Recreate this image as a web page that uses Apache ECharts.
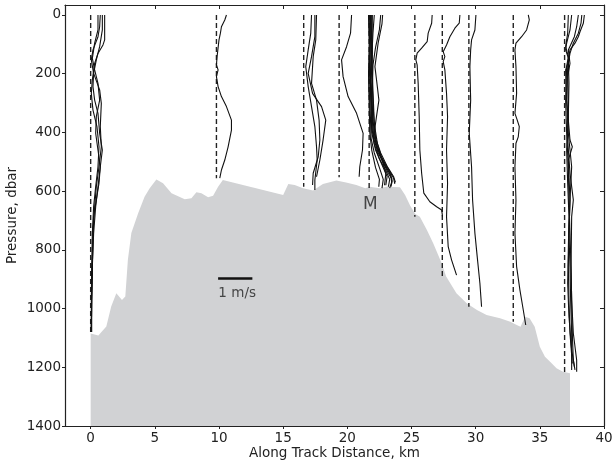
<!DOCTYPE html>
<html><head><meta charset="utf-8">
<script src="https://cdn.jsdelivr.net/npm/echarts@6/dist/echarts.min.js"></script>
<style>html,body{margin:0;padding:0;background:#fff}#c{width:613px;height:463px}</style>
</head><body><div id="c"></div>
<script>
const xTicks = [0,5,10,15,20,25,30,35,40];
const yTicks = [0,200,400,600,800,1000,1200,1400];
const xName = 'Along Track Distance, km';
const yName = 'Pressure, dbar';
const scaleText = '1 m/s';
const markText = 'M';

// bathymetry [km, dbar]
const bathymetry = [[0,1085],[0.6,1092],[1.22,1061],[1.6,993],[2.0,948],[2.44,971],[2.7,959],[2.9,834],[3.17,743],[3.7,675],[4.2,619],[4.6,590],[5.12,560],[5.64,573],[6.3,607],[7.33,628],[7.85,624],[8.24,604],[8.63,607],[9.15,621],[9.54,616],[9.93,585],[10.3,562],[15.0,613],[15.4,576],[15.9,579],[16.55,590],[17.33,598],[18.1,576],[19.15,564],[19.9,571],[20.7,579],[21.4,590],[21.75,585],[22.5,590],[23.05,585],[24.1,587],[24.5,613],[24.9,650],[25.3,678],[25.65,687],[26.2,732],[26.7,778],[27.35,846],[27.7,891],[28.5,948],[29.3,982],[30.1,1005],[30.85,1022],[31.9,1033],[32.7,1045],[33.2,1056],[33.5,1062],[33.85,1028],[34.2,1033],[34.6,1062],[35.0,1130],[35.4,1164],[35.8,1181],[36.3,1203],[36.8,1215],[37.35,1220]];

// station positions (km) and bottom of dashed reference line (dbar)
const stationKm = [0, 9.8, 16.6, 19.36, 21.7, 25.26, 27.4, 29.47, 32.93, 36.93];
const stationBottom = [1080, 556, 585, 553, 590, 687, 889, 994, 1045, 1220];

// velocity profiles drawn as along-track position (km) vs pressure (dbar)
const profiles1 = [
 [[0.57,0],[0.57,51],[0.31,96],[0.13,148],[0.31,187],[0.57,233],[0.70,290],[0.44,346],[0.39,403],[0.57,460],[0.75,517],[0.65,573],[0.44,630],[0.23,687],[0.18,744],[0.13,857],[0.08,971],[0.05,1080]],
 [[0.75,0],[0.70,40],[0.57,74],[0.18,119],[0.05,153],[0.23,199],[0.70,255],[0.83,301],[0.75,380],[0.83,449],[0.65,517],[0.44,585],[0.31,653],[0.18,744],[0.13,857],[0.08,971],[0.08,1080]],
 [[0.91,0],[0.91,51],[0.70,108],[0.44,153],[0.23,199],[0.18,244],[0.31,290],[0.57,335],[0.70,403],[0.91,460],[0.75,517],[0.57,585],[0.39,653],[0.23,744],[0.13,857],[0.08,971],[0.05,1080]],
 [[1.09,0],[1.09,85],[0.96,102],[0.57,131],[0.31,165],[0.13,221],[0.05,267],[0.18,324],[0.49,380],[0.65,449],[0.57,517],[0.39,585],[0.23,653],[0.13,744],[0.08,857],[0.05,971],[0.05,1080]]
];
const profiles2 = [
 [[10.58,0],[10.45,17],[10.19,40],[10.11,62],[10.0,85],[9.85,142],[9.80,170],[9.93,187],[9.80,210],[9.93,244],[10.19,278],[10.58,312],[10.97,358],[10.97,392],[10.71,449],[10.45,494],[10.19,528],[10.06,556]]
];
const profiles3 = [
 [[17.21,0],[17.15,62],[16.95,119],[16.76,176],[16.95,244],[17.21,312],[17.47,380],[17.6,449],[17.65,494],[17.47,562],[17.47,596]],
 [[17.47,0],[17.47,74],[17.21,142],[16.95,199],[17.29,267],[17.99,312],[18.32,358],[18.11,426],[17.86,494],[17.6,551]],
 [[17.6,0],[17.54,85],[17.34,142],[17.21,233],[17.6,290],[17.8,358],[17.86,426],[17.73,483],[17.34,539],[17.29,579]]
];
const profiles4 = [
 [[20.33,0],[20.25,62],[19.94,108],[19.55,153],[19.67,210],[20.06,278],[20.72,335],[21.23,403],[21.18,460],[20.97,517],[20.92,551]]
];
const profiles5 = [
 [[21.65,0],[21.7,100],[21.65,200],[21.7,300],[21.75,400],[21.9,460],[22.2,520],[22.5,560],[22.45,585]],
 [[21.7,0],[21.75,120],[21.7,250],[21.8,350],[21.85,420],[22.1,470],[22.5,520],[22.8,560],[22.7,590]],
 [[21.75,0],[21.8,80],[21.75,180],[21.85,300],[21.9,400],[22.2,460],[22.7,510],[23.1,550],[23.0,580]],
 [[21.8,0],[21.85,150],[21.8,260],[21.9,380],[22.1,440],[22.5,490],[23.0,530],[23.3,560],[23.2,585]],
 [[21.85,0],[21.9,100],[21.8,200],[21.95,330],[22.05,420],[22.4,470],[22.9,510],[23.4,545],[23.45,570],[23.3,590]],
 [[21.9,0],[21.95,130],[21.85,230],[22.0,360],[22.2,430],[22.6,480],[23.2,525],[23.6,555],[23.7,575]],
 [[21.95,0],[21.9,90],[21.95,200],[21.9,310],[22.0,400],[22.3,450],[22.8,500],[23.3,540],[23.5,565],[23.4,585]],
 [[22.1,0],[22.0,60],[21.9,150],[22.0,260],[22.1,370],[22.35,440],[22.7,490],[23.0,540],[22.9,580]],
 [[22.6,0],[22.5,50],[22.2,110],[22.0,170],[21.95,250],[22.05,340],[22.2,420],[22.6,470],[23.1,515],[23.6,550],[23.75,570]],
 [[22.75,0],[22.7,30],[22.4,96],[22.15,176],[22.3,230],[22.46,290],[22.27,346],[22.1,400],[22.3,450],[22.75,500],[23.2,540],[23.5,560]]
];
const profiles6 = [
 [[26.61,0],[26.57,28],[26.3,62],[26.22,91],[25.79,113],[25.44,130],[25.34,153],[25.44,170],[25.52,233],[25.6,346],[25.65,460],[25.79,539],[25.96,607],[26.43,636],[26.96,653],[27.35,664],[27.42,687]]
];
const profiles7 = [
 [[28.77,0],[28.72,28],[28.38,45],[27.99,74],[27.73,102],[27.47,125],[27.6,142],[27.47,159],[27.6,187],[27.73,267],[27.81,346],[27.73,460],[27.81,573],[27.73,687],[27.86,789],[28.12,834],[28.51,886]]
];
const profiles8 = [
 [[30.02,0],[29.94,51],[29.68,85],[29.61,119],[29.55,176],[29.61,290],[29.5,403],[29.68,517],[29.76,630],[29.94,743],[30.12,823],[30.33,914],[30.46,994]]
];
const profiles9 = [
 [[34.1,0],[34.18,17],[33.97,51],[33.58,74],[33.14,96],[33.06,119],[33.14,176],[33.19,267],[33.06,335],[33.24,358],[33.4,380],[33.32,415],[33.14,437],[33.06,517],[33.14,630],[33.06,743],[33.19,857],[33.45,937],[33.71,1005],[33.9,1056]]
];
const profiles10 = [
 [[37.22,0],[37.17,62],[37.01,108],[37.22,142],[37.09,176],[37.01,290],[37.09,403],[37.22,517],[37.27,630],[37.35,744],[37.43,857],[37.48,971],[37.53,1084],[37.61,1175],[37.74,1209]],
 [[37.48,0],[37.35,51],[37.09,96],[37.01,119],[37.27,153],[37.01,187],[37.09,290],[37.35,426],[37.53,449],[37.22,494],[37.35,630],[37.27,744],[37.35,857],[37.4,971],[37.48,1084],[37.48,1209]],
 [[38.0,0],[37.87,40],[37.69,74],[37.22,119],[37.35,165],[37.17,210],[37.22,312],[37.17,426],[37.35,539],[37.61,630],[37.48,687],[37.43,857],[37.48,971],[37.61,1084],[37.87,1175],[37.87,1215]],
 [[38.27,0],[38.21,28],[38.0,62],[37.61,96],[37.35,131],[37.17,176],[37.09,290],[37.22,403],[37.48,517],[37.35,630],[37.27,744],[37.22,857],[37.27,971],[37.35,1084],[37.53,1187]],
 [[38.47,0],[38.39,28],[38.13,57],[38.0,74],[37.74,96],[37.35,119],[37.22,153],[37.27,233],[37.22,346],[37.09,460],[37.17,573],[37.27,687],[37.22,800],[37.17,914],[37.27,1028],[37.48,1141],[37.69,1198]]
];

// scale bar (1 m/s) endpoints and label positions
const scaleBar = [[9.93,898],[12.6,898]];
const scaleLabelAt = [9.95,948];
const markAt = [21.8,647];

const allProfiles = [profiles1,profiles2,profiles3,profiles4,profiles5,profiles6,profiles7,profiles8,profiles9,profiles10];

const FONT = 'DejaVu Sans';
const TXT = '#222';
const FS = 13.5;
const series = [];
series.push({
  type:'line', data:bathymetry, showSymbol:false, symbol:'none', silent:true, z:1,
  lineStyle:{width:0, color:'#d1d2d4'}, areaStyle:{color:'#d1d2d4', opacity:1, origin:'end'}
});
stationKm.forEach((k,i)=>{
  series.push({type:'line', data:[[k,0],[k,stationBottom[i]]], showSymbol:false, symbol:'none', silent:true, z:3,
    lineStyle:{color:'#222', width:1.4, type:[5,3]}});
});
allProfiles.forEach(group=>group.forEach(line=>{
  series.push({type:'line', data:line, showSymbol:false, symbol:'none', silent:true, z:4,
    lineStyle:{color:'#111', width:1.1}});
}));
series.push({type:'line', data:scaleBar, showSymbol:false, symbol:'none', silent:true, z:4,
  lineStyle:{color:'#111', width:2.5}});
series.push({type:'scatter', data:[scaleLabelAt], symbolSize:0, silent:true, z:5,
  label:{show:true, position:'right', distance:0, formatter:scaleText, color:TXT, fontFamily:FONT, fontSize:FS}});
series.push({type:'scatter', data:[markAt], symbolSize:0, silent:true, z:5,
  label:{show:true, position:'inside', formatter:markText, color:TXT, fontFamily:FONT, fontSize:17}});

const axLine = {show:true, onZero:false, lineStyle:{color:'#222', width:1.2}};
const fmt = v => String(v);
const chart = echarts.init(document.getElementById('c'), null, {renderer:'canvas'});
chart.setOption({
  animation:false,
  backgroundColor:'#fff',
  grid:{left:65, top:5, right:9, bottom:37, containLabel:false, outerBoundsMode:'none'},
  xAxis:[{
    type:'value', min:-2, max:40, position:'bottom',
    name:xName, nameLocation:'middle', nameGap:20, nameMoveOverlap:false,
    nameTextStyle:{color:TXT, fontFamily:FONT, fontSize:FS},
    axisLine:axLine,
    axisTick:{show:true, inside:false, length:3, customValues:xTicks, lineStyle:{color:'#222'}},
    axisLabel:{show:true, customValues:xTicks, formatter:fmt, color:TXT, fontFamily:FONT, fontSize:FS, margin:5},
    splitLine:{show:false}
  },{
    type:'value', min:-2, max:40, position:'top',
    axisLine:axLine,
    axisTick:{show:true, inside:true, length:4, customValues:xTicks, lineStyle:{color:'#222'}},
    axisLabel:{show:false}, splitLine:{show:false}
  }],
  yAxis:[{
    type:'value', min:-34, max:1400, inverse:true, position:'left',
    name:yName, nameLocation:'middle', nameGap:46, nameRotate:90, nameMoveOverlap:false,
    nameTextStyle:{color:TXT, fontFamily:FONT, fontSize:FS},
    axisLine:axLine,
    axisTick:{show:true, inside:false, length:3, customValues:yTicks, lineStyle:{color:'#222'}},
    axisLabel:{show:true, customValues:yTicks, formatter:fmt, color:TXT, fontFamily:FONT, fontSize:FS, margin:4},
    splitLine:{show:false}
  },{
    type:'value', min:-34, max:1400, inverse:true, position:'right',
    axisLine:axLine,
    axisTick:{show:true, inside:true, length:4, customValues:yTicks, lineStyle:{color:'#222'}},
    axisLabel:{show:false}, splitLine:{show:false}
  }],
  series:series
});
</script></body></html>
